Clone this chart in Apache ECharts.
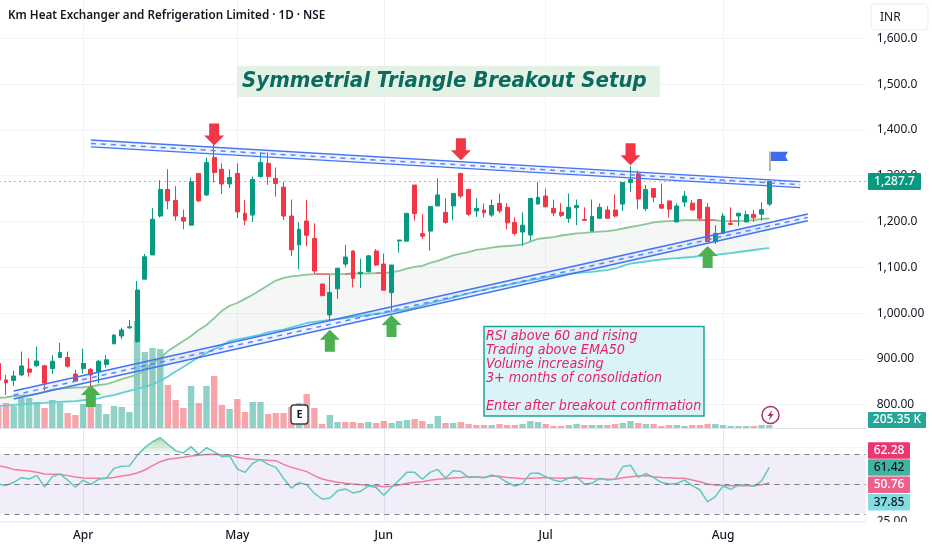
<!DOCTYPE html>
<html><head><meta charset="utf-8">
<style>html,body{margin:0;padding:0;background:#fff}#c{width:932px;height:550px}</style>
<script src="https://cdn.jsdelivr.net/npm/echarts@6/dist/echarts.min.js"></script>
</head><body><div id="c"></div>
<script>
const chartTitle='Km Heat Exchanger and Refrigeration Limited · 1D · NSE';
const setupTitle='Symmetrial Triangle Breakout Setup';
const noteLines=['RSI above 60 and rising','Trading above EMA50','Volume increasing','3+ months of consolidation','','Enter after breakout confirmation'];
const monthIndex=[11,31,50,71,94];
const monthLabels=['Apr','May','Jun','Jul','Aug'];
const priceTicks=[800,900,1000,1100,1200,1300,1400,1500,1600];
const priceTickLabels=['800.00','900.00','1,000.00','1,100.0','1,200.0','1,300.0','1,400.0','1,500.0','1,600.0'];
const lastPrice=1287.7;
const opens=[890,854,853,865,878,885,885,879,903,903,867,879,877,872,888,933,950,968,938,1074,1127,1212,1270,1246,1209,1192,1305,1258,1340,1314,1282,1305,1218,1214,1298,1327,1294,1275,1212,1149,1201,1163,1063.5,996,1053,1107,1135.5,1086,1090.4,1135.5,1107,1044.6,1157.5,1157,1279.6,1174,1179,1234,1220,1234,1305,1270,1223,1225,1214,1239.6,1231,1198,1177,1170.5,1238,1255.6,1228.7,1220,1207,1230,1204.7,1179,1207,1225,1225,1238,1285,1304,1228,1272,1237,1245,1199,1242.5,1240,1248,1231,1156,1174,1196,1212,1199,1215.6,1216,1238];
const closes=[854,848,862.7,884.5,871,895.4,847,895,914,884,852,890,865,895,898,952,963,970,1050.5,1123,1205,1270,1245,1212,1201,1287,1245,1329,1307,1282,1296,1221,1203,1292,1329,1298,1283,1212,1138,1183,1170,1092,1038,1045,1098,1122.5,1076,1089,1125,1105,1050,1105,1159.5,1217.8,1217,1168,1233,1258,1198,1261.4,1255.6,1216,1228.7,1219,1235,1223,1197,1174,1192,1250.5,1252.7,1232,1218.5,1213.4,1231,1235,1202.5,1211,1231,1207,1212,1285.4,1292,1249,1270,1253,1229,1227,1234,1255.6,1225,1207,1156,1174,1212,1193.7,1218,1215,1208,1226,1287.7];
const highs=[905,865,874,916,901,927,887,908,935,916,876,922,880,898,908,954,968,985,1070,1129,1229,1290.5,1314,1277,1226,1296,1305,1340,1367,1327,1314,1327,1247,1298,1351,1351,1318,1287,1248,1198,1247,1196,1064,1083,1098,1149,1137,1119,1127,1140,1130,1105,1160,1217.8,1279.6,1216,1233,1294,1250.5,1261.4,1305,1270,1250.5,1239.6,1248,1261,1239.6,1209,1220,1250.5,1287,1272,1248,1240,1261,1248,1231,1248,1239.6,1234,1259,1285.4,1321,1311,1280,1272,1283,1245,1240,1266.5,1247,1248,1240,1192,1218,1231,1218,1223,1225,1242,1287.7];
const lows=[845,821,841,863,861,883,831,867,903,881,850,868,841,847,881,932,943,965,935,1074,1127,1209,1227,1202,1183,1191,1243,1256,1285,1260,1273,1208,1192,1199,1296,1280,1254,1203,1125,1096,1146,1087,1038,983,1031,1100,1056,1055,1089,1103,1050,1005,1132,1157,1202,1162,1136,1234,1195,1203,1251,1212,1210,1209,1210,1218,1183,1170,1147,1157,1238,1231,1212,1210,1197,1192,1201,1179,1207,1207,1209,1223,1264,1227,1223,1242,1229,1209,1199,1232,1225,1202,1156,1151,1174,1192,1190,1199,1199.5,1202,1234];
const volumesK=[1470,1750,1540,2100,2100,1820,1400,1960,1750,1050,910,1680,1470,1680,980,1540,1470,1120,7490,5320,5600,5530,3010,1960,1400,2940,1750,2940,3640,1610,1330,2030,1120,1820,1820,980,1050,1050,1470,1750,2380,1400,280,910,420,420,420,350,420,350,490,350,490,560,630,490,280,840,350,350,420,280,210,210,210,280,210,210,280,490,420,280,140,140,210,280,210,210,210,210,280,350,490,350,280,280,140,210,210,140,210,210,280,280,210,140,140,140,140,210,205.35];
const volumeUp=[0,0,1,1,1,1,0,1,1,0,0,1,0,1,1,1,1,1,1,1,1,1,0,0,0,1,0,1,0,0,1,0,0,1,1,0,0,0,0,1,0,0,0,1,1,0,0,0,1,0,0,1,1,1,0,0,1,1,0,1,0,0,0,0,1,0,0,0,1,1,1,0,0,0,1,1,0,1,1,0,0,1,1,0,1,0,0,0,1,1,0,0,0,1,1,1,1,1,0,1,1];
const emaFast=[815,816,819,820,821,823.4,828,833,835,836.5,837.6,838,840,843,845,850,856,860.5,865,876,891,902,917,928,939,950,963,974,989,1005,1016,1022,1031,1040,1050.5,1061,1071,1077,1080,1082,1084,1085,1085,1085,1085,1085,1086.5,1086.5,1086.5,1087.5,1087.5,1089,1092,1097,1100.7,1103,1109.5,1114,1120,1126,1130,1133,1138,1140,1143,1145.4,1146.5,1147.6,1150,1156,1162,1164,1166,1169.4,1171.6,1174,1175,1177,1178,1179,1181.4,1184.7,1188,1191,1194.5,1198,1200,1201,1202,1203,1203,1203,1203,1203,1201,1201,1201,1202,1203,1205.5,1206.5];
const emaSlow=[797,798,799.4,800.5,801.6,802.7,803.8,805,806,807,808,809.7,811.4,813.6,818,821,825.6,830,834.4,838.7,844,852,861.6,872.5,882.4,893,904,913,921.7,929,939,942.4,945.7,949,953,957.7,961,964,968.6,973,978.4,980.6,982.8,985,987,989.3,991.5,993.7,996,998,1000,1003.5,1005.7,1008,1012,1016.6,1022,1025.4,1029.7,1034,1038.5,1042.8,1047,1050.5,1055,1058,1061,1064.7,1068,1072,1074.5,1078,1081,1083,1085.4,1087.6,1088.7,1089.8,1092,1094,1097.4,1103,1108,1110.5,1112.7,1115,1117,1119,1120,1121.4,1122.5,1124.7,1125.8,1127,1129,1131,1133.4,1135.6,1137.8,1140,1142];
const emaRedSpans=[[41,43],[45,46],[49,50],[91,93],[95,96]];
const rsiValues=[49.9,49.2,51.3,54.4,53.5,56,48.1,55.1,56.9,52.8,47.9,52.8,49.9,53.3,54,60.7,62.1,62.3,69.3,74.7,78.7,81.4,76.9,72.7,71.1,75.4,70.2,74.7,72,68.6,69.1,60.3,58,64.1,66.6,63.4,61.4,54,47.4,51,49.7,43.8,40,40.5,45.6,46.8,44.1,45.2,48.8,47.7,42.5,47.9,52.8,58,58,53.3,58,60,54,59.1,58.5,54.6,54.9,54.4,56.2,54.6,51.3,48.8,50.4,57.3,57.6,55.1,52.8,51.7,54.2,55.1,50.1,50.6,54,52.8,53.3,61.9,62.8,54.6,57.3,54.4,51.3,50.1,50.4,52.8,49,46.1,38,41.6,48.8,46.5,49.5,49.7,48.6,52.2,61.42];
const rsiMa=[62.5,61.4,60,59.4,58.9,58,56.9,56.7,56.7,55.8,54.9,54.2,54,54,54,54.6,55.5,56.2,57.6,59.6,62.5,65.2,66.8,67.5,68.2,69.1,69.5,70,70.2,69.7,69.7,68.2,67.3,66.8,66.6,66.1,65.9,63.4,61.4,60,58.5,55.8,53.5,52.4,51.3,50.6,50.1,49.7,49.2,49,48.3,48.6,49.5,50.6,51.3,51.7,52.6,53.3,53.7,54.2,54.6,55.1,54.9,54.6,55.5,55.3,54.6,54.2,53.7,54,54.2,54.6,54.2,54,54.2,54.4,54,53.7,53.5,53.3,53.3,54.4,55.1,55.5,55.8,55.1,54.6,54.4,54,54,52.8,51.7,50.1,49.5,49.2,49,49,49,49,49.7,50.76];
const trendUpperTop=[[12,1377.9],[104,1287]];
const trendUpperMid=[[12,1370.5],[104,1280.5]];
const trendUpperBot=[[12,1363],[104,1274]];
const trendLowerTop=[[2,830],[105,1216.4]];
const trendLowerMid=[[2,821],[105,1209]];
const trendLowerBot=[[2,812.5],[105,1201.7]];
const arrowsDown=[[28,1390],[60,1358],[82,1347]];
const arrowsUp=[[12,819],[43,939.6],[51,972],[92,1122.5]];
const priceTags=[{text:'1,287.7',y:173,h:17,w:53,bg:'#089981',fg:'#fff'},{text:'205.35 K',y:412,h:16,w:58,bg:'#26a69a',fg:'#fff'}];
const rsiTags=[{text:'62.28',y:442.3,bg:'#e8386f',fg:'#fff'},{text:'61.42',y:459.3,bg:'#3fb5a1',fg:'#131722'},{text:'50.76',y:476.6,bg:'#ee5f8a',fg:'#fff'},{text:'37.85',y:494,bg:'#82dce2',fg:'#131722'}];

const BAR=7.71, N=113, LEFT=-5.55, WIDTH=N*BAR;
const categories=[];for(let i=0;i<N;i++)categories.push(String(i));
const isMonth=i=>monthIndex.indexOf(i)>=0;
const ohlc=opens.map((o,i)=>[o,closes[i],lows[i],highs[i]]);
const UP='#089981',DOWN='#f23645',GRID='#f0f3fa',BLUE='#2962ff',FONT='"Noto Sans",Roboto,sans-serif';
const ARROW_D='path://M5 0H15V12H20L10 22L0 12H5Z';
const ARROW_U='path://M10 0L20 10H15V22H5V10H0Z';
const emaRed=emaFast.map((v,i)=>emaRedSpans.some(s=>i>=s[0]&&i<=s[1])?v:null);
function xAxisBase(idx,extra){return Object.assign({type:'category',gridIndex:idx,data:categories,boundaryGap:true,axisLine:{show:false},axisTick:{show:false},axisLabel:{show:false},
  splitLine:{show:false}},extra||{});}
function band(topL,botL){return function(p,api){if(p.dataIndex!==0)return;
  const pts=[api.coord(topL[0]),api.coord(topL[1]),api.coord(botL[1]),api.coord(botL[0])];
  return{type:'polygon',shape:{points:pts},style:{fill:'rgba(41,98,255,0.08)'},silent:true};};}
function tline(data,dashed){return{type:'line',data:data,xAxisIndex:0,yAxisIndex:0,symbol:'none',silent:true,z:6,
  lineStyle:{color:dashed?'#5d86f5':'#4274f5',width:dashed?1.5:1.4,type:dashed?[5,5]:'solid'}};}
const option={animation:false,backgroundColor:'#fff',textStyle:{fontFamily:FONT},
 grid:[{left:LEFT,width:WIDTH,top:-7.5,height:458,outerBoundsMode:'none'},{left:LEFT,width:WIDTH,top:0,height:428,outerBoundsMode:'none'},{left:LEFT,width:WIDTH,top:429.2,height:92,outerBoundsMode:'none'}],
 xAxis:[xAxisBase(0),
  xAxisBase(1,{splitLine:{show:true,alignWithLabel:true,interval:(i)=>isMonth(i),lineStyle:{color:GRID,width:1}}}),
  xAxisBase(2,{splitLine:{show:true,alignWithLabel:true,interval:(i)=>isMonth(i),lineStyle:{color:'#e6e8ef',width:1}},
    axisLabel:{show:true,interval:(i)=>isMonth(i),formatter:(v,i)=>monthLabels[monthIndex.indexOf(+v)]||'',margin:8,fontSize:12,fontFamily:FONT,fontWeight:500,color:'#131722'}})],
 yAxis:[{type:'value',gridIndex:0,position:'right',min:700,max:1700,interval:100,axisLine:{show:false},axisTick:{show:false},
   splitLine:{show:true,showMinLine:false,showMaxLine:false,lineStyle:{color:GRID,width:1}},
   axisLabel:{margin:11,fontSize:12,fontFamily:FONT,color:'#131722',showMinLabel:true,showMaxLabel:true,formatter:v=>{const k=priceTicks.indexOf(v);return k<0?'':priceTickLabels[k];}}},
  {type:'value',gridIndex:1,min:0,max:29960,axisLine:{show:false},axisTick:{show:false},axisLabel:{show:false},splitLine:{show:false}},
  {type:'value',gridIndex:2,position:'right',min:25,max:87.16,interval:25,axisLine:{show:false},axisTick:{show:false},
   splitLine:{show:true,showMinLine:true,showMaxLine:false,lineStyle:{color:GRID,width:1}},
   axisLabel:{margin:11,fontSize:12,fontFamily:FONT,color:'#131722',showMinLabel:true,formatter:v=>v===25?'25.00':''}}],
 series:[
  {type:'bar',name:'Volume',xAxisIndex:1,yAxisIndex:1,barWidth:6.4,z:1,silent:true,
   data:volumesK.map((v,i)=>({value:v,itemStyle:{color:volumeUp[i]?'rgba(8,153,129,0.45)':'rgba(242,54,69,0.45)'}}))},
  {type:'custom',name:'EMA fill',xAxisIndex:0,yAxisIndex:0,z:2,silent:true,data:emaFast.map((v,i)=>[i,v]),
   renderItem:(p,api)=>{if(p.dataIndex!==0)return;const a=emaFast.map((v,i)=>api.coord([i,v]));const b=emaSlow.map((v,i)=>api.coord([i,v])).reverse();
     return{type:'polygon',shape:{points:a.concat(b)},style:{fill:'rgba(120,123,134,0.07)'}};}},
  {type:'line',name:'EMA50',data:emaFast,xAxisIndex:0,yAxisIndex:0,symbol:'none',silent:true,z:3,lineStyle:{color:'#8cc79b',width:1.8}},
  {type:'line',name:'EMA50 red',data:emaRed,xAxisIndex:0,yAxisIndex:0,symbol:'none',silent:true,z:3,connectNulls:false,lineStyle:{color:'#ef7580',width:1.8}},
  {type:'line',name:'EMA200',data:emaSlow,xAxisIndex:0,yAxisIndex:0,symbol:'none',silent:true,z:3,lineStyle:{color:'#5fd0d5',width:1.8}},
  {type:'candlestick',name:'Price',data:ohlc,xAxisIndex:0,yAxisIndex:0,barWidth:4.4,z:5,silent:true,
   itemStyle:{color:UP,color0:DOWN,borderColor:UP,borderColor0:DOWN,borderWidth:1},
   markLine:{silent:true,symbol:'none',label:{show:false},lineStyle:{color:UP,type:[1,4],width:1.2},data:[{yAxis:lastPrice}]}},
  {type:'custom',name:'Upper band',xAxisIndex:0,yAxisIndex:0,z:6,silent:true,data:[[12,1370]],renderItem:band(trendUpperTop,trendUpperBot)},
  {type:'custom',name:'Lower band',xAxisIndex:0,yAxisIndex:0,z:6,silent:true,data:[[2,821]],renderItem:band(trendLowerTop,trendLowerBot)},
  tline(trendUpperTop),tline(trendUpperMid,true),tline(trendUpperBot),
  tline(trendLowerTop),tline(trendLowerMid,true),tline(trendLowerBot),
  {type:'scatter',name:'Down arrows',data:arrowsDown,xAxisIndex:0,yAxisIndex:0,symbol:ARROW_D,symbolSize:[20,22],z:7,silent:true,itemStyle:{color:DOWN,opacity:1}},
  {type:'scatter',name:'Up arrows',data:arrowsUp,xAxisIndex:0,yAxisIndex:0,symbol:ARROW_U,symbolSize:[20,22],z:7,silent:true,itemStyle:{color:'#4caf50',opacity:1}},
  {type:'custom',name:'Overbought',xAxisIndex:2,yAxisIndex:2,z:2,silent:true,data:[[18,70]],
   renderItem:(p,api)=>{const pts=[];for(let i=18;i<=29;i++)pts.push(api.coord([i,Math.max(rsiValues[i],70)]));
     return{type:'polygon',shape:{points:pts},style:{fill:{type:'linear',x:0,y:0,x2:0,y2:1,colorStops:[{offset:0,color:'rgba(76,175,80,0.45)'},{offset:1,color:'rgba(76,175,80,0.02)'}]}}};}},
  {type:'line',name:'RSI',data:rsiValues,xAxisIndex:2,yAxisIndex:2,symbol:'none',silent:true,z:4,lineStyle:{color:'#5fc9bc',width:1.5},
   markArea:{silent:true,itemStyle:{color:'rgba(126,87,194,0.1)'},data:[[{yAxis:30},{yAxis:70}]]},
   markLine:{silent:true,symbol:'none',label:{show:false},lineStyle:{color:'#787b86',type:[5,5],width:1},data:[{yAxis:70},{yAxis:50},{yAxis:30}]}},
  {type:'line',name:'RSI MA',data:rsiMa,xAxisIndex:2,yAxisIndex:2,symbol:'none',silent:true,z:3,lineStyle:{color:'#f07d9c',width:1.5}}
 ],
 graphic:{elements:[
  {type:'rect',z:100,shape:{x:0,y:428,width:866,height:1},style:{fill:'#e0e3eb'}},
  {type:'rect',z:100,shape:{x:0,y:521.5,width:866,height:1},style:{fill:'#e8eaf0'}},
  {type:'text',z:100,style:{x:8,y:16,text:chartTitle,fontFamily:'"Noto Sans"',fontSize:11.7,fontWeight:600,fill:'#131722',verticalAlign:'middle'}},
  {type:'rect',z:100,shape:{x:237,y:66,width:423,height:31},style:{fill:'#e3f2e5'}},
  {type:'text',z:101,style:{x:242,y:81.5,text:setupTitle,fontFamily:'"DejaVu Sans Condensed","DejaVu Sans"',fontStyle:'italic',fontWeight:'bold',fontSize:22,fill:'#0b6b5d',verticalAlign:'middle'}},
  {type:'rect',z:100,shape:{x:484,y:326.5,width:220,height:89.5},style:{fill:'#d9f3f8',stroke:'#1ca597',lineWidth:1.5}},
  ...noteLines.map((t,k)=>({type:'text',z:101,style:{x:486,y:336+k*14,text:t,fontFamily:'"DejaVu Sans Condensed","DejaVu Sans"',fontStyle:'italic',fontSize:14.2,fill:'#e91e63',verticalAlign:'middle'}})),
  {type:'rect',z:100,shape:{x:291,y:405,width:17,height:19,r:3},style:{fill:'#fff',stroke:'#3a3d46',lineWidth:1.4}},
  {type:'text',z:101,style:{x:299.5,y:414.5,text:'E',fontFamily:FONT,fontWeight:'bold',fontSize:11,fill:'#131722',align:'center',verticalAlign:'middle'}},
  {type:'circle',z:100,shape:{cx:770.5,cy:415,r:8.5},style:{fill:'rgba(255,255,255,0.6)',stroke:'#a8336b',lineWidth:1.5}},
  {type:'polygon',z:101,shape:{points:[[772.5,409.5],[767.5,416],[770.3,416],[768.7,420.5],[773.7,414],[770.9,414]]},style:{fill:'#a8336b'}},
  {type:'rect',z:100,shape:{x:769.5,y:151.5,width:1,height:19.5},style:{fill:'#6b6e78'}},
  {type:'polygon',z:100,shape:{points:[[771,151.7],[788,151.7],[785.5,156.3],[788,161],[771,161]]},style:{fill:'#3b6cf2'}},
  {type:'rect',z:102,shape:{x:866,y:522,width:66,height:12},style:{fill:'#fff'}},
  {type:'rect',z:102,shape:{x:866,y:0,width:66,height:33},style:{fill:'#fff'}},
  {type:'rect',z:103,shape:{x:871,y:4,width:57,height:26,r:4},style:{fill:'#fff',stroke:'#eceef2',lineWidth:1}},
  {type:'text',z:104,style:{x:880,y:17.5,text:'INR',fontFamily:FONT,fontSize:12,fill:'#131722',verticalAlign:'middle'}},
  ...priceTags.flatMap(t=>[{type:'rect',z:103,shape:{x:868,y:t.y,width:t.w,height:t.h,r:1},style:{fill:t.bg}},
    {type:'text',z:104,style:{x:868+t.w/2,y:t.y+t.h/2,text:t.text,fontFamily:FONT,fontSize:12,fontWeight:500,fill:t.fg,align:'center',verticalAlign:'middle'}}]),
  ...rsiTags.flatMap(t=>[{type:'rect',z:103,shape:{x:868,y:t.y,width:42,height:16.5,r:1},style:{fill:t.bg}},
    {type:'text',z:104,style:{x:889,y:t.y+8.3,text:t.text,fontFamily:FONT,fontSize:12,fontWeight:500,fill:t.fg,align:'center',verticalAlign:'middle'}}])
 ]}
};
echarts.init(document.getElementById('c'),null,{renderer:'canvas'}).setOption(option);
</script></body></html>
